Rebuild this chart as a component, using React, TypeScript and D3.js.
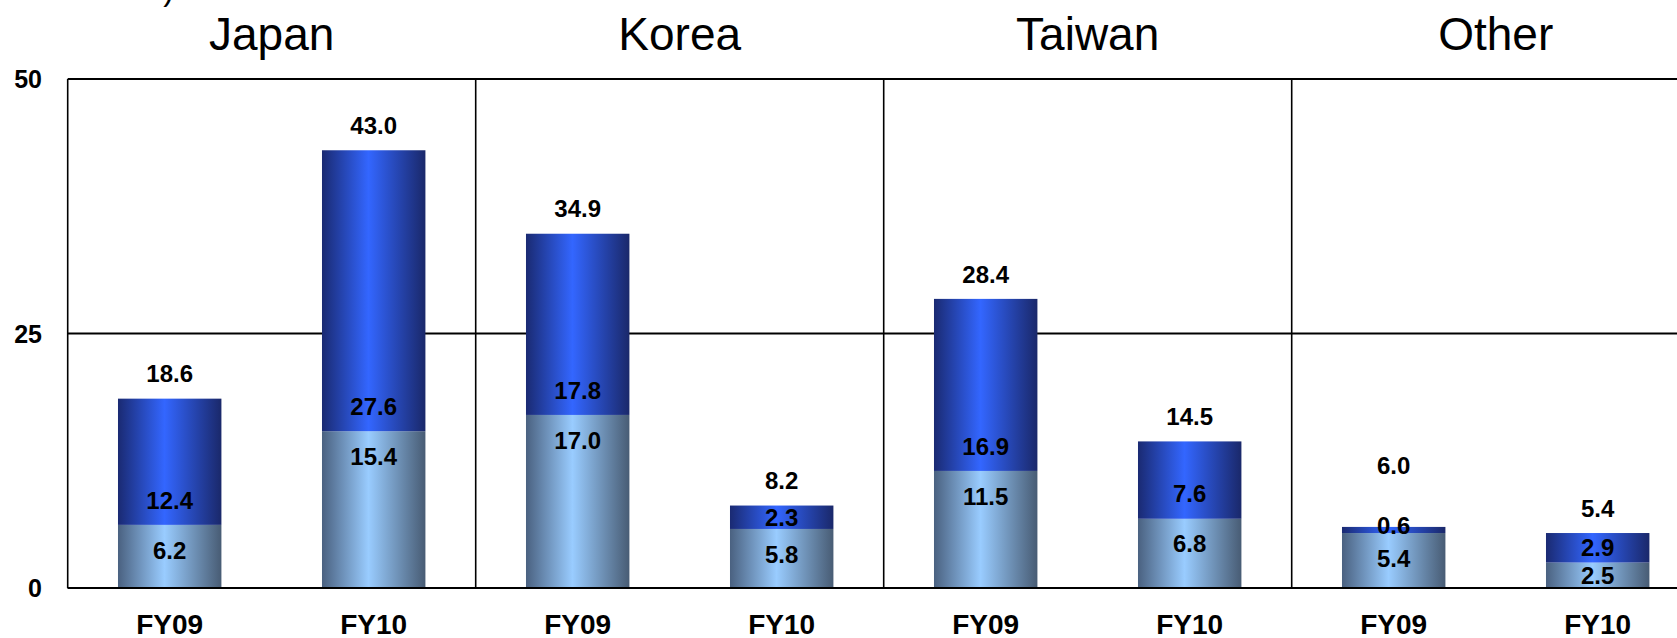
import React from "react";
import * as d3 from "d3";

const regions = ["Japan", "Korea", "Taiwan", "Other"];
const years = ["FY09", "FY10"];
// order: Japan FY09, Japan FY10, Korea FY09, Korea FY10, Taiwan FY09, Taiwan FY10, Other FY09, Other FY10
const lowerValues = [6.2, 15.4, 17.0, 5.8, 11.5, 6.8, 5.4, 2.5];
const upperValues = [12.4, 27.6, 17.8, 2.3, 16.9, 7.6, 0.6, 2.9];
const totalLabels = [18.6, 43.0, 34.9, 8.2, 28.4, 14.5, 6.0, 5.4];
const yTicks = [0, 25, 50];
const unitLabel = "(Billions of Yen)";

const W = 1677;
const H = 638;
const left = 67.7;
const panelW = 408;
const right = left + panelW * regions.length;
const top = 79;
const bottom = 588;

const FONT = "Arial, 'Liberation Sans', Helvetica, sans-serif";

export default function App() {
  const keys = regions.flatMap((r) => years.map((y) => `${r}|${y}`));
  const x = d3
    .scaleBand<string>()
    .domain(keys)
    .range([left, right])
    .paddingInner(0.493)
    .paddingOuter(0.2465);
  const y = d3.scaleLinear().domain([0, 50]).range([bottom, top]);
  const panel = d3
    .scaleBand<string>()
    .domain(regions)
    .range([left, right]);

  const bw = x.bandwidth();

  return (
    <svg
      width={W}
      height={H}
      style={{ position: "absolute", left: 0, top: 0, background: "#fff" }}
      fontFamily={FONT}
    >
      <defs>
        <linearGradient id="gDark" x1="0" x2="1" y1="0" y2="0">
          <stop offset="0%" stopColor="#1a2a72" />
          <stop offset="45%" stopColor="#3366ff" />
          <stop offset="100%" stopColor="#1a286a" />
        </linearGradient>
        <linearGradient id="gLight" x1="0" x2="1" y1="0" y2="0">
          <stop offset="0%" stopColor="#4a6180" />
          <stop offset="45%" stopColor="#99ccff" />
          <stop offset="100%" stopColor="#485c74" />
        </linearGradient>
      </defs>

      {/* unit label, mostly cut off at the top */}
      <text x={174} y={0} textAnchor="end" fontSize={32} fill="#000">
        {unitLabel}
      </text>

      {/* titles */}
      {regions.map((r) => (
        <text
          key={r}
          x={(panel(r) as number) + panel.bandwidth() / 2}
          y={50}
          textAnchor="middle"
          fontSize={46}
          fill="#000"
        >
          {r}
        </text>
      ))}

      {/* gridlines */}
      {yTicks.map((t) => (
        <line key={t} x1={left} x2={right} y1={y(t)} y2={y(t)} stroke="#000" strokeWidth={2} />
      ))}
      {/* y labels */}
      {yTicks.map((t) => (
        <text
          key={"l" + t}
          x={42}
          y={y(t)}
          dy="0.36em"
          textAnchor="end"
          fontSize={25}
          fontWeight="bold"
          fill="#000"
        >
          {t}
        </text>
      ))}
      {/* vertical panel lines */}
      {regions.map((r) => (
        <line
          key={"v" + r}
          x1={panel(r) as number}
          x2={panel(r) as number}
          y1={top}
          y2={bottom}
          stroke="#000"
          strokeWidth={1.6}
        />
      ))}

      {/* bars */}
      {keys.map((k, i) => {
        const x0 = x(k) as number;
        const lo = lowerValues[i];
        const up = upperValues[i];
        const yB = y(lo);
        const yT = y(lo + up);
        return (
          <g key={k}>
            <rect x={x0} y={yB} width={bw} height={bottom - yB} fill="url(#gLight)" />
            <rect x={x0} y={yT} width={bw} height={yB - yT} fill="url(#gDark)" />
          </g>
        );
      })}
      {/* baseline over bars */}
      <line x1={left} x2={right} y1={bottom} y2={bottom} stroke="#000" strokeWidth={2} />

      {/* labels */}
      {keys.map((k, i) => {
        const cx = (x(k) as number) + bw / 2;
        const lo = lowerValues[i];
        const up = upperValues[i];
        const yB = y(lo);
        const yT = y(lo + up);
        const hLo = bottom - yB;
        const hUp = yB - yT;
        const loY = yB + Math.min(25, hLo / 2);
        const upLabelY = hUp < 12 ? yB - 8 : yB - Math.min(25, hUp / 2);
        let totY = yT - 25;
        if (upLabelY - totY < 30) totY = upLabelY - 60;
        const common = {
          textAnchor: "middle" as const,
          fontSize: 24,
          fontWeight: "bold" as const,
          fill: "#000",
          dy: "0.36em",
        };
        return (
          <g key={"t" + k}>
            <text x={cx} y={loY} {...common}>
              {lo.toFixed(1)}
            </text>
            <text x={cx} y={upLabelY} {...common}>
              {up.toFixed(1)}
            </text>
            <text x={cx} y={totY} {...common}>
              {totalLabels[i].toFixed(1)}
            </text>
          </g>
        );
      })}

      {/* x labels */}
      {keys.map((k) => (
        <text
          key={"x" + k}
          x={(x(k) as number) + bw / 2}
          y={634}
          textAnchor="middle"
          fontSize={28}
          fontWeight="bold"
          fill="#000"
        >
          {k.split("|")[1]}
        </text>
      ))}
    </svg>
  );
}
